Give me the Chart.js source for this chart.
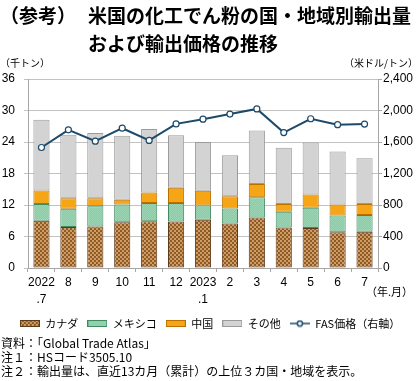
<!DOCTYPE html>
<html>
<head>
<meta charset="utf-8">
<script src="https://cdn.jsdelivr.net/npm/chart.js@4.4.1/dist/chart.umd.min.js"></script>
<style>
  body { margin: 0; background: #fff; width: 420px; height: 381px; overflow: hidden; position: relative; }
  #wrap { position: absolute; left: 0; top: 0; width: 420px; height: 381px; }
  .t { position: absolute; white-space: nowrap; color: #000; font-family: "Noto Sans CJK JP", sans-serif; }
  .ttl { font-size: 19px; font-weight: bold; line-height: 22px; }
  .unit { font-size: 10px; line-height: 12px; }
  .note { font-size: 12px; line-height: 13.5px; left: 1px; }
</style>
</head>
<body>
<div id="wrap"><canvas id="chart" width="420" height="381"></canvas></div>
<div class="t ttl" style="left:0;top:4px">（参考）</div>
<div class="t ttl" style="left:88px;top:4px">米国の化工でん粉の国・地域別輸出量</div>
<div class="t ttl" style="left:88px;top:32px">および輸出価格の推移</div>
<div class="t unit" style="left:0;top:57px">（千トン）</div>
<div class="t unit" style="left:344px;top:57px">（米ドル/トン）</div>
<div class="t unit" style="left:366px;top:285px;font-size:11px">（年.月）</div>
<div class="t note" style="top:336px">資料：「Global Trade Atlas」</div>
<div class="t note" style="top:350px">注１：HSコード3505.10</div>
<div class="t note" style="top:364px">注２：輸出量は、直近13カ月（累計）の上位３カ国・地域を表示。</div>

<script>
// ---- datos (千トン / 米ドル/トン) ----
const meses = [['2022', '.7'], '8', '9', '10', '11', '12', ['2023', '.1'], '2', '3', '4', '5', '6', '7'];
const canada = [9.0, 7.8, 7.9, 8.7, 8.9, 8.85, 9.2, 8.5, 9.6, 7.7, 7.6, 6.8, 6.9];
const mexico = [3.2, 3.5, 3.85, 3.4, 3.5, 3.55, 2.7, 2.85, 3.9, 3.0, 3.9, 3.2, 3.2];
const china = [2.56, 2.0, 1.55, 0.9, 2.0, 2.9, 2.8, 2.3, 2.5, 1.5, 2.5, 2.1, 2.1];
const otros = [13.5, 12.1, 12.4, 12.2, 12.1, 10.0, 9.3, 7.85, 10.2, 10.7, 9.9, 10.1, 8.7];
const fasPrecio = [1530, 1755, 1610, 1775, 1620, 1830, 1890, 1955, 2020, 1720, 1895, 1820, 1828];

const ticksIzq = [0, 6, 12, 18, 24, 30, 36];
const ticksDer = [0, 400, 800, 1200, 1600, 2000, 2400];

const nombres = ['カナダ', 'メキシコ', '中国', 'その他', 'FAS価格（右軸）'];

// ---- texturas ----
function textura(c1, c2, cell) {
    const p = document.createElement('canvas');
    p.width = p.height = cell * 2;
    const g = p.getContext('2d');
    g.fillStyle = c1;
    g.fillRect(0, 0, cell * 2, cell * 2);
    g.fillStyle = c2;
    g.fillRect(0, 0, cell, cell);
    g.fillRect(cell, cell, cell, cell);
    return g.createPattern(p, 'repeat');
}
const ctx = document.getElementById('chart').getContext('2d');
const patCanada = textura('#8e5a2a', '#cf9d62', 2);
const patMexico = textura('#89cca4', '#9bd5b3', 1);

const estilos = [
    { fill: patCanada, border: '#5e3a1c' },
    { fill: patMexico, border: '#3f8a62' },
    { fill: '#f5a516', border: '#b87000' },
    { fill: '#d3d3d3', border: '#9b9b9b' }
];
const colorLinea = '#1c4a6b';

// iconos de leyenda
function iconoBarra(est) {
    const c = document.createElement('canvas');
    c.width = 20; c.height = 7;
    const g = c.getContext('2d');
    g.fillStyle = est.fill;
    g.fillRect(0, 0, 20, 7);
    g.strokeStyle = est.border;
    g.lineWidth = 1;
    g.strokeRect(0.5, 0.5, 19, 6);
    return c;
}
function iconoLinea() {
    const c = document.createElement('canvas');
    c.width = 20; c.height = 8;
    const g = c.getContext('2d');
    g.strokeStyle = colorLinea;
    g.lineWidth = 1.5;
    g.beginPath(); g.moveTo(0, 4); g.lineTo(20, 4); g.stroke();
    g.fillStyle = '#fff';
    g.beginPath(); g.arc(10, 4, 2.6, 0, Math.PI * 2); g.fill(); g.stroke();
    return c;
}

const series = [canada, mexico, china, otros];
const datasets = series.map((d, i) => ({
    type: 'bar',
    label: nombres[i],
    data: d,
    backgroundColor: estilos[i].fill,
    borderColor: estilos[i].border,
    borderWidth: 1,
    borderSkipped: false,
    yAxisID: 'y',
    stack: 'vol',
    order: 1,
    barPercentage: 0.6,
    categoryPercentage: 1
}));
datasets.push({
    type: 'line',
    label: nombres[4],
    data: fasPrecio,
    borderColor: colorLinea,
    borderWidth: 2,
    pointRadius: 3,
    pointBackgroundColor: '#fff',
    pointBorderColor: colorLinea,
    pointBorderWidth: 1.2,
    tension: 0,
    yAxisID: 'y1',
    order: 0
});

const fuenteTicks = { family: '"Liberation Sans", Arial, sans-serif', size: 12 };

new Chart(ctx, {
    data: { labels: meses, datasets: datasets },
    options: {
        responsive: false,
        animation: false,
        layout: { padding: { top: 79, left: 0, right: 0, bottom: 42 } },
        plugins: {
            tooltip: { enabled: false },
            legend: {
                position: 'bottom',
                labels: {
                    color: '#000',
                    font: { family: '"Noto Sans CJK JP", sans-serif', size: 11 },
                    usePointStyle: true,
                    pointStyleWidth: 20,
                    boxHeight: 8,
                    padding: 9,
                    generateLabels: (chart) => chart.data.datasets.map((ds, i) => ({
                        text: ds.label,
                        pointStyle: i < 4 ? iconoBarra(estilos[i]) : iconoLinea(),
                        fillStyle: 'transparent',
                        strokeStyle: 'transparent',
                        lineWidth: 0,
                        datasetIndex: i
                    }))
                }
            }
        },
        scales: {
            x: {
                stacked: true,
                offset: true,
                afterFit: (s) => { s.height = 41; },
                grid: { offset: true, drawOnChartArea: false, drawTicks: true, tickLength: 4, color: '#a6a6a6' },
                border: { color: '#a6a6a6' },
                ticks: { color: '#000', font: { ...fuenteTicks, lineHeight: 1.45 }, padding: 2, maxRotation: 0, autoSkip: false }
            },
            y: {
                position: 'left',
                stacked: true,
                min: 0,
                max: 36,
                afterFit: (s) => { s.width = 28; },
                afterBuildTicks: (s) => { s.ticks = ticksIzq.map(v => ({ value: v })); },
                grid: { color: '#c3c3c3', tickLength: 4 },
                border: { color: '#a6a6a6' },
                ticks: { color: '#000', font: fuenteTicks, padding: 9 }
            },
            y1: {
                position: 'right',
                min: 0,
                max: 2400,
                afterFit: (s) => { s.width = 42; },
                afterBuildTicks: (s) => { s.ticks = ticksDer.map(v => ({ value: v })); },
                grid: { drawOnChartArea: false, tickLength: 4, color: '#a6a6a6' },
                border: { color: '#a6a6a6' },
                ticks: { color: '#000', font: fuenteTicks, padding: 1, callback: (v) => v.toLocaleString('en-US') }
            }
        }
    }
});
</script>
</body>
</html>
